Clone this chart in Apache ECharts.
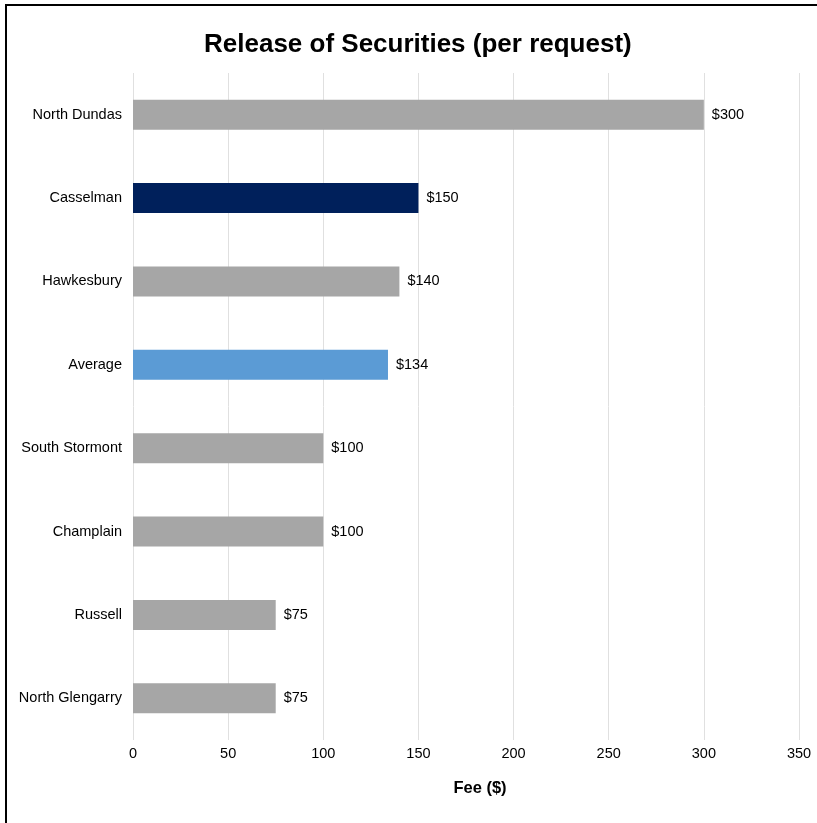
<!DOCTYPE html>
<html>
<head>
<meta charset="utf-8">
<script src="https://cdn.jsdelivr.net/npm/echarts@6/dist/echarts.min.js"></script>
<style>
  html, body { margin: 0; padding: 0; background: #fff; }
  #frame { position: absolute; left: 5px; top: 4px; width: 830px; height: 840px;
           border-left: 2px solid #000; border-top: 2px solid #000; box-sizing: border-box; }
  #chart { position: absolute; left: 0; top: 0; width: 817px; height: 823px; }
</style>
</head>
<body>
<div id="frame"></div>
<div id="chart"></div>
<script>
// Municipalities, listed top to bottom
const categories = ['North Dundas', 'Casselman', 'Hawkesbury', 'Average', 'South Stormont', 'Champlain', 'Russell', 'North Glengarry'];
// Fee per request, in dollars
const fees = [300, 150, 140, 134, 100, 100, 75, 75];
const xTicks = [0, 50, 100, 150, 200, 250, 300, 350];

const barColor = name => name === 'Casselman' ? '#00205b' : (name === 'Average' ? '#5b9bd5' : '#a6a6a6');
const font = 'Liberation Sans, Arial, sans-serif';

const chart = echarts.init(document.getElementById('chart'), null, { renderer: 'canvas' });
chart.setOption({
  backgroundColor: 'transparent',
  animation: false,
  title: {
    text: 'Release of Securities (per request)',
    left: 204,
    top: 32,
    padding: 0,
    textStyle: { fontFamily: font, fontSize: 26, fontWeight: 'bold', color: '#000' }
  },
  grid: { left: 133, right: 18, top: 73, bottom: 83, containLabel: false },
  xAxis: {
    type: 'value',
    min: xTicks[0],
    max: xTicks[xTicks.length - 1],
    interval: 50,
    name: 'Fee ($)',
    nameLocation: 'middle',
    nameGap: 40,
    nameTextStyle: { fontFamily: font, fontSize: 16.5, fontWeight: 'bold', color: '#000', padding: [0, 0, 0, 28] },
    axisLine: { show: false },
    axisTick: { show: false },
    axisLabel: { color: '#000', fontSize: 14.5, fontFamily: font, margin: 6 },
    splitLine: { show: true, lineStyle: { color: '#e0e0e0', width: 1 } }
  },
  yAxis: {
    type: 'category',
    data: categories,
    inverse: true,
    axisLine: { show: false },
    axisTick: { show: false },
    axisLabel: { color: '#000', fontSize: 14.5, fontFamily: font, margin: 11 }
  },
  series: [{
    type: 'bar',
    barWidth: 30,
    data: fees.map((v, i) => ({ value: v, itemStyle: { color: barColor(categories[i]) } })),
    label: {
      show: true,
      position: 'right',
      distance: 8,
      color: '#000',
      fontSize: 14.5,
      fontFamily: font,
      formatter: p => '$' + p.value
    }
  }]
});
</script>
</body>
</html>
